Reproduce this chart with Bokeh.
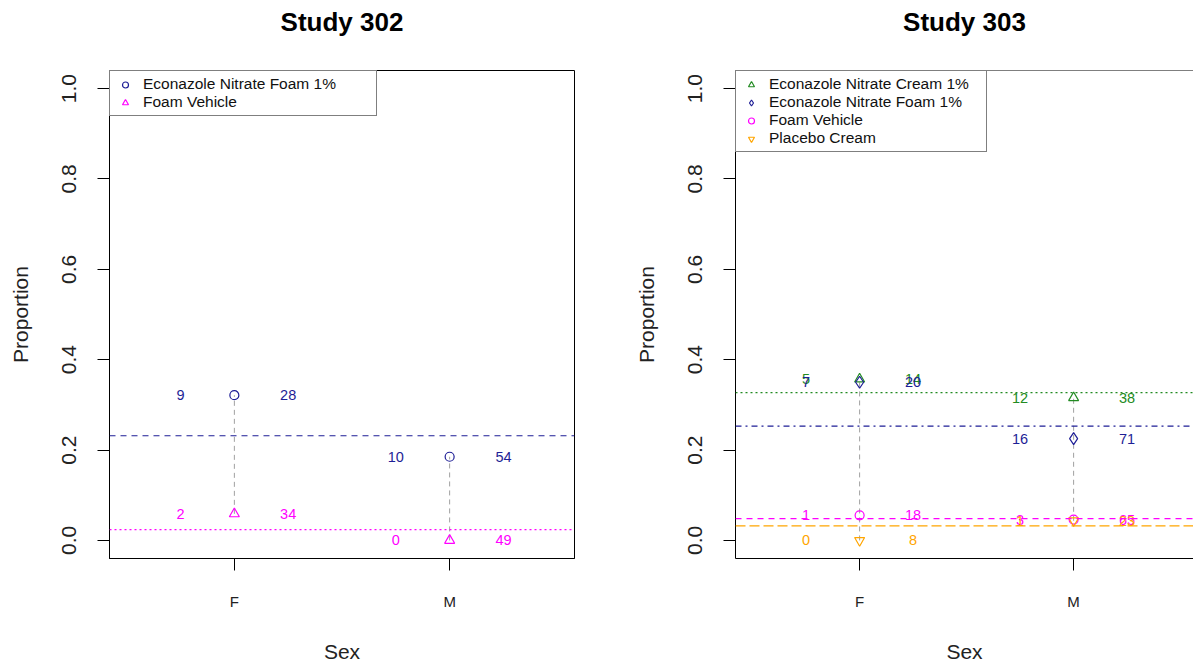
from bokeh.plotting import figure
from bokeh.models import FixedTicker, Span, Legend, LegendItem, Range1d
from bokeh.layouts import row
from bokeh.embed import file_html
from bokeh.resources import INLINE
from bokeh.core.properties import value

FONT = "Liberation Sans"

# ---- data ----
sexes = ["F", "M"]
sex_pos = [1, 2]

# Study 302
s302_foam_events = [9, 10]
s302_foam_n = [28, 54]
s302_veh_events = [2, 0]
s302_veh_n = [34, 49]

# Study 303
s303_cream_events = [5, 12]
s303_cream_n = [14, 38]
s303_foam_events = [7, 16]
s303_foam_n = [20, 71]
s303_veh_events = [1, 3]
s303_veh_n = [18, 65]
s303_plac_events = [0, 1]
s303_plac_n = [8, 23]

y_ticks = [0.0, 0.2, 0.4, 0.6, 0.8, 1.0]

NAVY = "#1e1e96"
MAGENTA = "#ff00ff"
GREEN = "#228b22"
ORANGE = "#ffa500"
GRAY = "#a0a0a0"

X_START = 0.42
X_FULL_END = 2.58


def make_panel(title, series, x_end, fw, mbr, full_box, lw):
    p = figure(frame_width=fw, frame_height=488,
               x_range=Range1d(X_START, x_end), y_range=Range1d(-0.04, 1.04),
               output_backend="svg", toolbar_location=None,
               min_border_left=109, min_border_right=mbr,
               min_border_top=70, min_border_bottom=105,
               title=title + "\n", x_axis_label="Sex", y_axis_label="Proportion")
    p.xgrid.visible = False
    p.ygrid.visible = False
    p.background_fill_color = "white"
    p.border_fill_color = "white"
    if full_box:
        p.outline_line_color = "black"
        p.outline_line_width = 1
    else:
        p.outline_line_color = None
        p.add_layout(Span(location=1.04, dimension="width", line_color="black", line_width=1))

    p.title.text_font = FONT
    p.title.text_font_size = "26px"
    p.title.text_font_style = "bold"
    p.title.text_color = "black"
    p.title.align = "center"
    p.title.standoff = 7

    for ax in (p.xaxis[0], p.yaxis[0]):
        ax.axis_line_color = "black"
        ax.major_tick_line_color = "black"
        ax.major_tick_out = 12
        ax.major_tick_in = 0
        ax.minor_tick_line_color = None
        ax.axis_label_text_font = FONT
        ax.axis_label_text_font_style = "normal"
        ax.axis_label_text_font_size = "21px"
        ax.axis_label_text_color = "#222222"
        ax.major_label_text_font = FONT
        ax.major_label_text_color = "#222222"

    p.xaxis.ticker = FixedTicker(ticks=sex_pos)
    p.xaxis.major_label_overrides = {pos: s for pos, s in zip(sex_pos, sexes)}
    p.xaxis.major_label_text_font_size = "15px"
    p.xaxis.major_label_standoff = 22
    p.xaxis.axis_label_standoff = 27

    p.yaxis.ticker = FixedTicker(ticks=y_ticks)
    p.yaxis.major_label_overrides = {t: f"{t:.1f}" for t in y_ticks}
    p.yaxis.major_label_orientation = "vertical"
    p.yaxis.major_label_text_font_size = "21px"
    p.yaxis.major_label_standoff = 21
    p.yaxis.axis_label_standoff = 28

    # connectors between the groups at each sex
    props_all = []
    for s in series:
        props_all.append([e / n for e, n in zip(s["events"], s["n"])])
    lo = [min(pr[i] for pr in props_all) for i in range(len(sex_pos))]
    hi = [max(pr[i] for pr in props_all) for i in range(len(sex_pos))]
    p.segment(x0=sex_pos, y0=lo, x1=sex_pos, y1=hi, line_color=GRAY,
              line_dash="5 4", line_width=1)

    items = []
    for s in series:
        overall = sum(s["events"]) / sum(s["n"])
        p.add_layout(Span(location=overall, dimension="width", line_color=s["color"],
                          line_dash=s["dash"], line_width=1.2))
    for s, props in zip(series, props_all):
        r = p.scatter(x=sex_pos, y=props, marker=s["marker"], size=s["size"],
                      line_color=s["color"], fill_color=None, line_width=1.2)
        items.append(LegendItem(label=s["name"], renderers=[r]))
        p.text(x=[x - 0.25 for x in sex_pos], y=props, text=[str(v) for v in s["events"]],
               text_color=s["color"], text_font=value(FONT), text_font_size="14.5px",
               text_align="center", text_baseline="middle")
        p.text(x=[x + 0.25 for x in sex_pos], y=props, text=[str(v) for v in s["n"]],
               text_color=s["color"], text_font=value(FONT), text_font_size="14.5px",
               text_align="center", text_baseline="middle")

    leg = Legend(items=items, location="top_left", margin=0, padding=4, spacing=0,
                 border_line_color="black", border_line_width=1,
                 background_fill_color="white", background_fill_alpha=1,
                 label_text_font=FONT, label_text_font_size="15.5px",
                 label_text_color="#111111", label_text_line_height=0.9,
                 glyph_width=22, glyph_height=15, label_height=15,
                 label_standoff=7, label_width=lw)
    p.add_layout(leg)
    return p


left_series = [
    dict(name="Econazole Nitrate Foam 1%", events=s302_foam_events, n=s302_foam_n,
         color=NAVY, marker="circle", size=9, dash="6 5"),
    dict(name="Foam Vehicle", events=s302_veh_events, n=s302_veh_n,
         color=MAGENTA, marker="triangle", size=10, dash="2 3"),
]
right_series = [
    dict(name="Econazole Nitrate Cream 1%", events=s303_cream_events, n=s303_cream_n,
         color=GREEN, marker="triangle", size=10, dash="2 3"),
    dict(name="Econazole Nitrate Foam 1%", events=s303_foam_events, n=s303_foam_n,
         color=NAVY, marker="diamond", size=12, dash="6 4 2 4"),
    dict(name="Foam Vehicle", events=s303_veh_events, n=s303_veh_n,
         color=MAGENTA, marker="circle", size=9, dash="6 5"),
    dict(name="Placebo Cream", events=s303_plac_events, n=s303_plac_n,
         color=ORANGE, marker="inverted_triangle", size=10, dash="10 4"),
]

p1 = make_panel("Study 302", left_series, X_FULL_END, 465, 52, True, 229)
p2 = make_panel("Study 303", right_series, X_START + 458 / 214, 458, 0, False, 213)

layout = row(p1, p2)
open("out.html", "w").write(file_html(layout, INLINE))
